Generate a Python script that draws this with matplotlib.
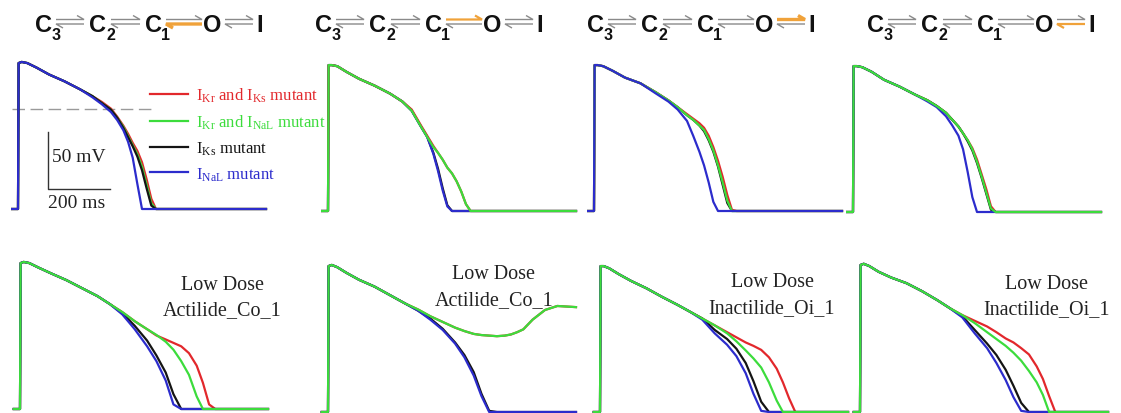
import matplotlib.pyplot as plt

plt.rcParams['font.family'] = 'Liberation Serif'
plt.rcParams['mathtext.fontset'] = 'custom'
plt.rcParams['mathtext.rm'] = 'Liberation Serif'
plt.rcParams['mathtext.it'] = 'Liberation Serif:italic'

# ---- data: membrane potential (mV) sampled on a time grid (ms) ----
TOP_T = [-20, 0, 2, 12, 30, 60, 100, 150, 200, 240, 270, 300, 320, 340, 355,
         370, 385, 400, 415, 430, 445, 460, 800]

TOP1_RED = [-88, -88, 40, 41, 40, 36, 30, 24, 17, 11, 6, 0, -7, -15, -22, -30, -37, -47, -62, -79, -88, -88, -88]
TOP1_GREEN = [-88, -88, 40, 41, 40, 36, 30, 24, 17, 11, 5, -1, -8, -16, -24, -32, -40, -51, -67, -83, -88, -88, -88]
TOP1_BLACK = [-88, -88, 40, 41, 40, 36, 30, 24, 17, 11, 5, -1, -8, -17, -25, -33, -42, -54, -70, -85, -88, -88, -88]
TOP1_BLUE = [-88, -88, 40, 41, 40, 36, 30, 24, 17, 10, 4, -3, -10, -19, -29, -43, -66, -88, -88, -88, -88, -88, -88]

TOP2_RED = [-88, -88, 40, 40, 39, 34, 28, 22, 15, 8, 1, -13, -22, -31, -37, -43, -50, -55, -62, -71, -82, -88, -88]
TOP2_GREEN = [-88, -88, 40, 40, 39, 34, 28, 22, 15, 8, 0, -14, -23, -32, -37, -43, -50, -55, -62, -71, -82, -88, -88]
TOP2_BLACK = [-88, -88, 40, 40, 39, 34, 28, 22, 15, 8, 0, -14, -23, -37, -51, -68, -83, -88, -88, -88, -88, -88, -88]
TOP2_BLUE = [-88, -88, 40, 40, 39, 34, 28, 22, 15, 8, 0, -14, -23, -38, -53, -70, -84, -88, -88, -88, -88, -88, -88]

TOP3_RED = [-88, -88, 40, 40, 39, 35, 29, 24, 16, 9, 3, -3, -7, -11, -15, -22, -32, -44, -58, -74, -87, -88, -88]
TOP3_GREEN = [-88, -88, 40, 40, 39, 35, 29, 24, 16, 9, 3, -4, -8, -13, -17, -25, -35, -48, -63, -79, -88, -88, -88]
TOP3_BLACK = [-88, -88, 40, 40, 39, 35, 29, 24, 16, 9, 3, -4, -8, -13, -18, -26, -36, -49, -65, -81, -88, -88, -88]
TOP3_BLUE = [-88, -88, 40, 40, 39, 35, 29, 24, 15, 8, 1, -9, -22, -36, -48, -63, -80, -88, -88, -88, -88, -88, -88]

TOP4_RED = [-88, -88, 40, 40, 39, 35, 28, 22, 15, 10, 5, -1, -7, -13, -19, -25, -32, -42, -55, -68, -83, -88, -88]
TOP4_GREEN = [-88, -88, 40, 40, 39, 35, 28, 22, 15, 10, 5, -1, -7, -13, -19, -25, -33, -44, -57, -71, -85, -88, -88]
TOP4_BLACK = [-88, -88, 40, 40, 39, 35, 28, 22, 15, 10, 5, -1, -7, -13, -19, -26, -34, -45, -58, -72, -86, -88, -88]
TOP4_BLUE = [-88, -88, 40, 40, 39, 35, 28, 22, 15, 9, 4, -4, -12, -21, -33, -53, -75, -88, -88, -88, -88, -88, -88]

BOT_T = [-20, 0, 2, 12, 30, 60, 100, 150, 200, 250, 290, 330, 370, 410, 440,
         470, 495, 520, 545, 570, 590, 610, 630, 660, 700, 740, 800]

BOT1_RED = [-88, -88, 40, 41, 40, 36, 31, 25, 18, 11, 4, -3, -11, -18, -23.5, -27, -30, -33, -39, -50, -65, -84, -88, -88, -88, -88, -88]
BOT1_GREEN = [-88, -88, 40, 41, 40, 36, 31, 25, 18, 11, 4, -3, -11, -18, -23, -29, -36, -46, -58, -77, -88, -88, -88, -88, -88, -88, -88]
BOT1_BLACK = [-88, -88, 40, 41, 40, 36, 31, 25, 18, 11, 4, -4, -15, -28, -41, -56, -75, -88, -88, -88, -88, -88, -88, -88, -88, -88, -88]
BOT1_BLUE = [-88, -88, 40, 41, 40, 36, 31, 25, 18, 11, 4, -5, -18, -33, -46, -63, -84, -88, -88, -88, -88, -88, -88, -88, -88, -88, -88]

BOT2_RED = [-88, -88, 40, 41, 39, 34, 28, 22, 14.5, 7, 2, -4, -9, -14, -17, -19.5, -20.5, -21, -21.5, -21, -20, -18, -15.5, -7, 1.5, 5, 4]
BOT2_GREEN = [-88, -88, 40, 41, 39, 34, 28, 22, 14.5, 7, 2, -4, -9, -14, -17, -19.5, -20.5, -21, -21.5, -21, -20, -18, -15.5, -7, 1.5, 5, 4]
BOT2_BLACK = [-88, -88, 40, 41, 39, 34, 28, 22, 14.5, 7, 1, -6, -15, -27, -38, -53, -72, -87, -88, -88, -88, -88, -88, -88, -88, -88, -88]
BOT2_BLUE = [-88, -88, 40, 41, 39, 34, 28, 22, 14.5, 7, 1, -7, -16, -28, -40, -56, -74, -88, -88, -88, -88, -88, -88, -88, -88, -88, -88]

BOT3_RED = [-88, -88, 40, 40, 38, 33, 27, 20.5, 13, 6, 0, -6, -12, -18, -22.5, -27, -30, -33.5, -40, -50, -62, -76, -88, -88, -88, -88, -88]
BOT3_GREEN = [-88, -88, 40, 40, 38, 33, 27, 20.5, 13, 6, 0, -6, -12, -19, -26, -34, -41, -49, -62, -78, -88, -88, -88, -88, -88, -88, -88]
BOT3_BLACK = [-88, -88, 40, 40, 38, 33, 27, 20.5, 13, 6, 0, -6, -16, -24, -32.5, -45, -61, -79, -88, -88, -88, -88, -88, -88, -88, -88, -88]
BOT3_BLUE = [-88, -88, 40, 40, 38, 33, 27, 20.5, 13, 6, 0, -7, -19, -29, -39, -54, -72, -87, -88, -88, -88, -88, -88, -88, -88, -88, -88]

BOT4_RED = [-88, -88, 41, 42, 40, 35, 30, 25, 18, 10, 3, -3, -8, -13, -18, -23.5, -27, -32, -37.5, -48, -59, -74, -88, -88, -88, -88, -88]
BOT4_GREEN = [-88, -88, 41, 42, 40, 35, 30, 25, 18, 10, 3, -3, -10, -18, -24, -30, -36, -43, -52, -62, -73, -88, -88, -88, -88, -88, -88]
BOT4_BLACK = [-88, -88, 41, 42, 40, 35, 30, 25, 18, 10, 3, -4, -16, -28, -38, -51, -65, -80, -88, -88, -88, -88, -88, -88, -88, -88, -88]
BOT4_BLUE = [-88, -88, 41, 42, 40, 35, 30, 25, 18, 10, 3, -5, -19, -32, -45, -60, -75, -87, -88, -88, -88, -88, -88, -88, -88, -88, -88]

LABELS = {
    'red': r'I$_{\rm Kr}$ and I$_{\rm Ks}$ mutant',
    'green': r'I$_{\rm Kr}$ and I$_{\rm NaL}$ mutant',
    'black': r'I$_{\rm Ks}$ mutant',
    'blue': r'I$_{\rm NaL}$ mutant',
}
DRUG_LABELS = ['Low Dose\nActilide_Co_1', 'Low Dose\nActilide_Co_1',
               'Low Dose\nInactilide_Oi_1', 'Low Dose\nInactilide_Oi_1']
SCALE_MV = 50
SCALE_MS = 200
ZERO_LINE_T = [-20, 445]
ZERO_LINE_V = [0, 0]

STATES = ['C', 'C', 'C', 'O', 'I']
STATE_SUBS = ['3', '2', '1', '', '']

# ---- layout / style ----
W, H = 1121, 414
PX_MS, PX_MV = 0.31, 1.14
XLIM, YLIM, REST = (-22, 805), (-92, 46), -88
COLORS = {'red': '#e2282c', 'green': '#3cdc3c', 'black': '#141414', 'blue': '#2c2ccc'}
LW = 1.6

TOP_ANCHORS = [(18, 210), (328, 212), (594, 212), (853, 213)]
BOT_ANCHORS = [(20, 410), (328, 413), (600, 413), (860, 413)]
TEXT_POS = [(652, 10), (535, 22), (555, 15), (603, 14)]

top_panels = [
    {'red': TOP1_RED, 'green': TOP1_GREEN, 'black': TOP1_BLACK, 'blue': TOP1_BLUE},
    {'red': TOP2_RED, 'green': TOP2_GREEN, 'black': TOP2_BLACK, 'blue': TOP2_BLUE},
    {'red': TOP3_RED, 'green': TOP3_GREEN, 'black': TOP3_BLACK, 'blue': TOP3_BLUE},
    {'red': TOP4_RED, 'green': TOP4_GREEN, 'black': TOP4_BLACK, 'blue': TOP4_BLUE},
]
bot_panels = [
    {'red': BOT1_RED, 'green': BOT1_GREEN, 'black': BOT1_BLACK, 'blue': BOT1_BLUE},
    {'red': BOT2_RED, 'green': BOT2_GREEN, 'black': BOT2_BLACK, 'blue': BOT2_BLUE},
    {'red': BOT3_RED, 'green': BOT3_GREEN, 'black': BOT3_BLACK, 'blue': BOT3_BLUE},
    {'red': BOT4_RED, 'green': BOT4_GREEN, 'black': BOT4_BLACK, 'blue': BOT4_BLUE},
]
TOP_ORDER = [['red', 'green', 'black', 'blue'], ['black', 'blue', 'red', 'green'],
             ['black', 'red', 'green', 'blue'], ['red', 'black', 'blue', 'green']]
BOT_ORDER = ['red', 'black', 'blue', 'green']

# kinetic scheme drawing
DIAG_X = [0, 280, 552, 832]
STATE_X = [43, 98, 153, 212, 260]
ARROW_X = [(56, 84), (111, 140), (166, 202), (225, 253)]
HIGHLIGHT = [(2, 'back', 2.4), (2, 'fwd', 1.6), (3, 'fwd', 2.4), (3, 'back', 1.6)]
ORANGE = '#f0a23a'
GRAY = '#8a8a8a'


def trace_axes(fig, ux, by):
    left = ux + XLIM[0] * PX_MS
    width = (XLIM[1] - XLIM[0]) * PX_MS
    top = by - (YLIM[1] - REST) * PX_MV
    height = (YLIM[1] - YLIM[0]) * PX_MV
    ax = fig.add_axes([left / W, 1 - (top + height) / H, width / W, height / H])
    ax.set_xlim(XLIM)
    ax.set_ylim(YLIM)
    ax.axis('off')
    return ax


def harpoon(ax, x0, x1, kind, color, lw):
    if kind == 'fwd':
        ax.plot([x0, x1, x1 - 7], [20.5, 20.5, 16.5], color=color, lw=lw,
                solid_joinstyle='miter', solid_capstyle='butt')
    else:
        ax.plot([x0 + 7, x0, x1], [29, 25, 25], color=color, lw=lw,
                solid_joinstyle='miter', solid_capstyle='butt')


fig = plt.figure(figsize=(W / 100, H / 100), dpi=100)

# kinetic schemes
for d, ox in enumerate(DIAG_X):
    ax = fig.add_axes([ox / W, 1 - 50 / H, 280 / W, 50 / H])
    ax.set_xlim(0, 280)
    ax.set_ylim(50, 0)
    ax.axis('off')
    for s, x in enumerate(STATE_X):
        ax.text(x, 32, STATES[s], ha='center', va='baseline', fontsize=17,
                fontweight='bold', family='Liberation Sans', color='#111111')
        if STATE_SUBS[s]:
            ax.text(x + 13, 40, STATE_SUBS[s], ha='center', va='baseline',
                    fontsize=11.5, fontweight='bold', family='Liberation Sans',
                    color='#111111')
    hi_idx, hi_kind, hi_lw = HIGHLIGHT[d]
    for a, (x0, x1) in enumerate(ARROW_X):
        for kind in ['fwd', 'back']:
            if a == hi_idx and kind == hi_kind:
                harpoon(ax, x0, x1, kind, ORANGE, hi_lw)
            else:
                harpoon(ax, x0, x1, kind, GRAY, 1.0)

# top row traces
axes_top = []
for p, (ux, by) in enumerate(TOP_ANCHORS):
    ax = trace_axes(fig, ux, by)
    for key in TOP_ORDER[p]:
        ax.plot(TOP_T, top_panels[p][key], color=COLORS[key], lw=LW,
                label=LABELS[key], solid_joinstyle='round')
    axes_top.append(ax)

# bottom row traces
for p, (ux, by) in enumerate(BOT_ANCHORS):
    ax = trace_axes(fig, ux, by)
    for key in BOT_ORDER:
        ax.plot(BOT_T, bot_panels[p][key], color=COLORS[key], lw=LW,
                solid_joinstyle='round', clip_on=False)
    ax.text(TEXT_POS[p][0], TEXT_POS[p][1], DRUG_LABELS[p], ha='center',
            va='center', fontsize=14.5, linespacing=1.45, color='#222222')

# first panel: zero line, scale bar, legend
ax1 = axes_top[0]
ax1.plot(ZERO_LINE_T, ZERO_LINE_V, color='#9a9a9a', lw=1.0,
         linestyle=(0, (9, 4)), zorder=0)
sx, sy = 97, -70.5
ax1.plot([sx, sx, sx + SCALE_MS], [sy + SCALE_MV, sy, sy], color='#333333', lw=1.0)
ax1.text(sx + 13, -46, f'{SCALE_MV} mV', fontsize=14, va='baseline', color='#222222')
ax1.text(sx, -86, f'{SCALE_MS} ms', fontsize=14, va='baseline', color='#222222')

handles, labels = ax1.get_legend_handles_labels()
ax1.legend(handles, labels, loc='upper left', bbox_to_anchor=(150 / W, 1 - 87 / H),
           bbox_transform=fig.transFigure, frameon=False, fontsize=12,
           handlelength=2.3, handletextpad=0.45, labelspacing=0.5,
           borderpad=0, borderaxespad=0, labelcolor='linecolor')

fig.savefig('out.png', dpi=100)
